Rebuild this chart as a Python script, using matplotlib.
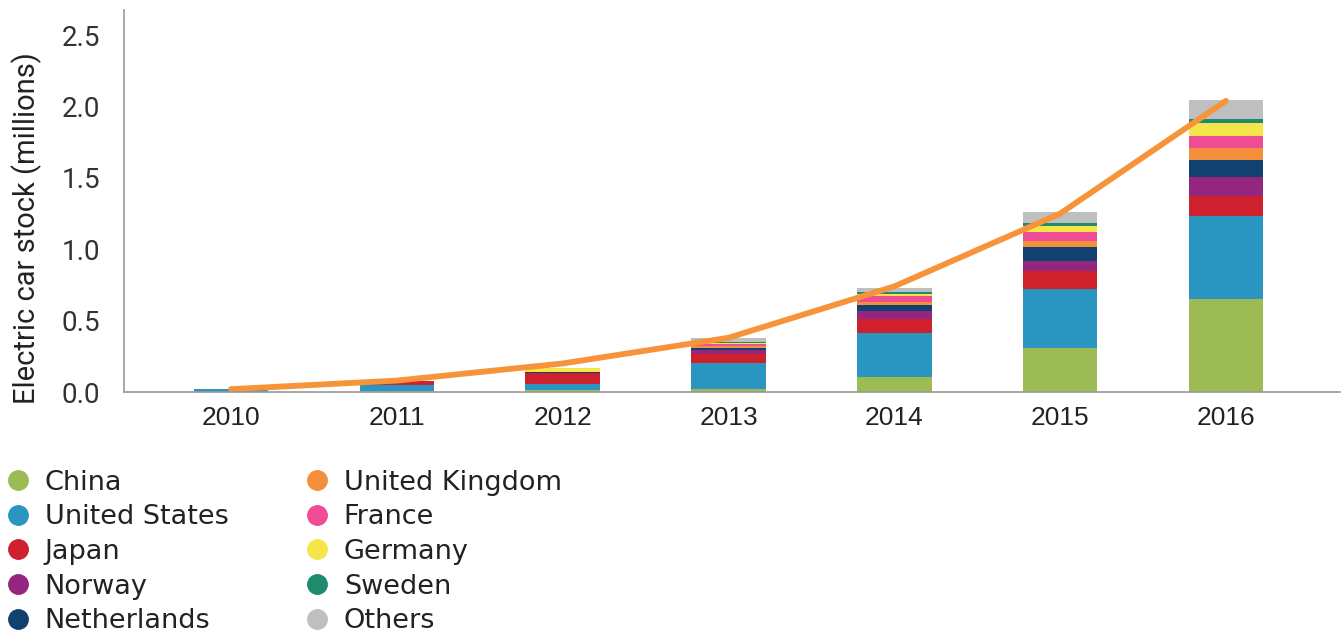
# ev_stock_chart.py
# Stacked bars of electric car stock by country, 2010-2016, with total trend line

import numpy as np
import matplotlib.pyplot as plt
from matplotlib.lines import Line2D

years = ["2010", "2011", "2012", "2013", "2014", "2015", "2016"]

countries = ["China", "United States", "Japan", "Norway", "Netherlands",
             "United Kingdom", "France", "Germany", "Sweden", "Others"]

# values in millions
china = [0.002, 0.005, 0.016, 0.022, 0.107, 0.310, 0.650]
united_states = [0.018, 0.045, 0.040, 0.182, 0.303, 0.413, 0.586]
japan = [0.002, 0.025, 0.075, 0.062, 0.103, 0.124, 0.140]
norway = [0.0, 0.0, 0.003, 0.025, 0.052, 0.073, 0.133]
netherlands = [0.0, 0.0, 0.003, 0.018, 0.042, 0.098, 0.115]
united_kingdom = [0.0, 0.0, 0.002, 0.010, 0.023, 0.042, 0.085]
france = [0.0, 0.0, 0.004, 0.015, 0.042, 0.058, 0.085]
germany = [0.0, 0.0, 0.025, 0.012, 0.018, 0.042, 0.090]
sweden = [0.0, 0.0, 0.0, 0.004, 0.012, 0.022, 0.030]
others = [0.0, 0.0, 0.0, 0.025, 0.025, 0.076, 0.130]

total_trend = [0.02, 0.08, 0.20, 0.38, 0.74, 1.25, 2.04]

colors = ["#9dbb55", "#2a95c0", "#cf202e", "#952680", "#11426f",
          "#f58f3c", "#ee4c95", "#f6e54a", "#1f8a6c", "#bebfc1"]

series = [china, united_states, japan, norway, netherlands,
          united_kingdom, france, germany, sweden, others]

fig = plt.figure(figsize=(13.44, 6.37), dpi=100)
ax = fig.add_axes([0.0923, 0.3846, 0.905, 0.5994])

x = np.arange(len(years))
bottom = np.zeros(len(years))
for vals, col in zip(series, colors):
    ax.bar(x, vals, width=0.45, bottom=bottom, color=col, linewidth=0)
    bottom += np.array(vals)

ax.plot(x, total_trend, color="#f7943a", linewidth=4.2, solid_capstyle="round")

ax.set_xlim(-0.645, 6.69)
ax.set_ylim(0, 2.675)
ax.set_yticks([0, 0.5, 1.0, 1.5, 2.0, 2.5])
ax.set_yticklabels(["0.0", "0.5", "1.0", "1.5", "2.0", "2.5"],
                   fontsize=20, color="#333333", family="Roboto")
ax.set_xticks(x)
ax.set_xticklabels(years, fontsize=19, color="#222222", family="Liberation Sans")
ax.tick_params(axis="y", length=0, pad=17)
ax.tick_params(axis="x", length=0, pad=10)
ax.set_ylabel("Electric car stock (millions)", fontsize=21, color="#222222",
              family="Roboto", labelpad=14, y=0.43)

for side in ["top", "right"]:
    ax.spines[side].set_visible(False)
for side in ["left", "bottom"]:
    ax.spines[side].set_color("#999999")
    ax.spines[side].set_linewidth(1.2)

handles = [Line2D([], [], linestyle="none", marker="o", markersize=14,
                  markerfacecolor=c, markeredgecolor=c) for c in colors]
fig.legend(handles, countries, loc="upper left", bbox_to_anchor=(-0.015, 0.301),
           ncol=2, frameon=False, handletextpad=0.5,
           columnspacing=2.75, labelspacing=0.32, handlelength=1.0,
           prop={"family": "DejaVu Sans", "size": 19.5})
for t in fig.legends[0].get_texts():
    t.set_color("#222222")

fig.savefig("out.png", dpi=100)
